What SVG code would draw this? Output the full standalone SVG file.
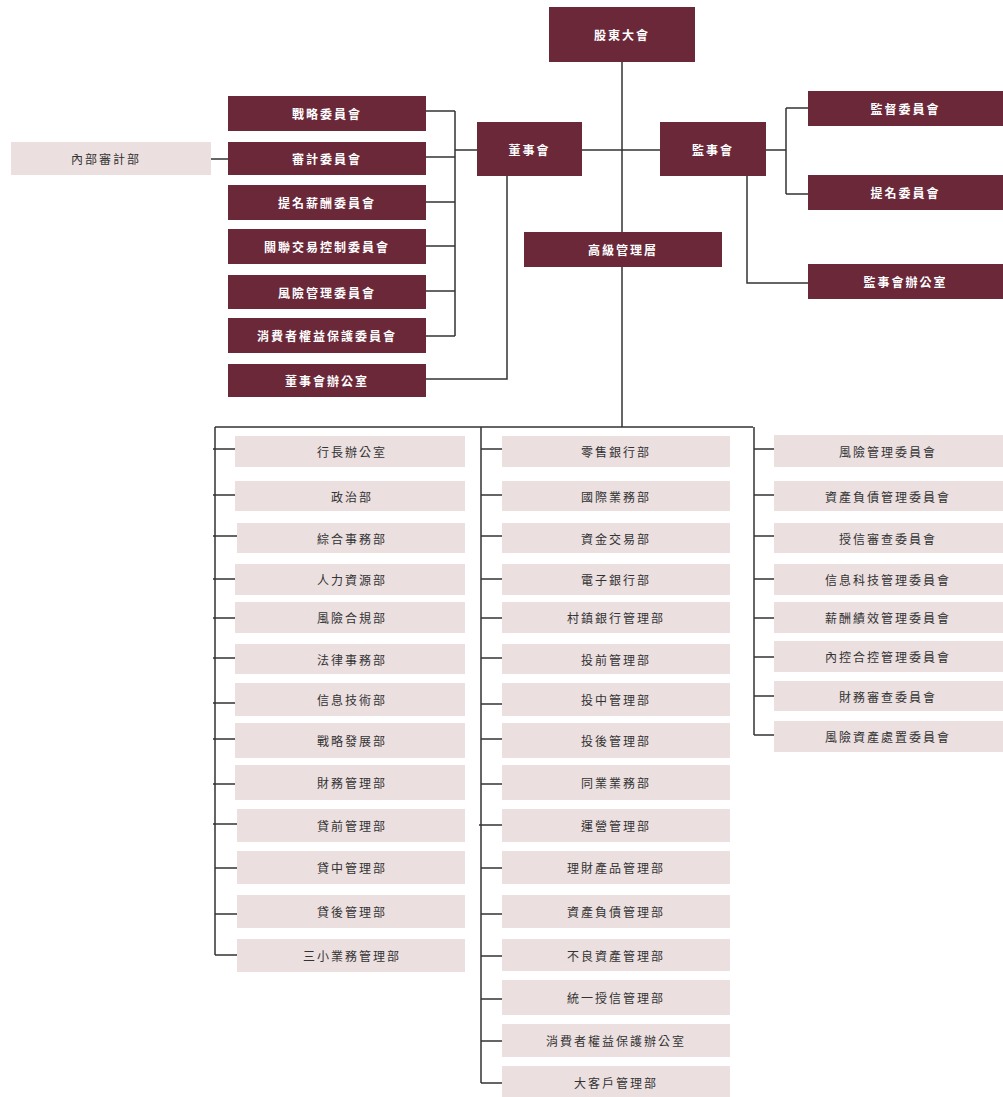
<svg xmlns="http://www.w3.org/2000/svg" width="1003" height="1097" viewBox="0 0 1003 1097">
<style>
.d{fill:#6b2839}
.l{fill:#ebdfe0}
.c{fill:none;stroke:#333;stroke-width:1.5}
text{font-family:"Noto Sans CJK TC","Noto Sans CJK SC",sans-serif;font-size:12px;letter-spacing:2px;text-anchor:middle;dominant-baseline:central}
.dt{fill:#fff;font-weight:bold}
.lt{fill:#333}
</style>
<rect width="1003" height="1097" fill="#fff"/>
<g id="connectors" class="c">
<path d="M622 62V232M582 150H660M622 267V427M215 427H753"/>
<path d="M766 150H786M786 108V194M786 108H808M786 194H808M747 176V283H808"/>
<path d="M507 176V379H426M455 111V336M455 150H477M426 111H455M426 157H455M426 202H455M426 246H455M426 291H455M426 336H455M211 159H228"/>
<path d="M215 427V955M213 449H235M213 495H235M213 536H237M213 579H235M213 618H235M213 658H235M213 703H235M213 739H235M213 784H235M213 824H237M215 868H237M215 914H237M215 955H237"/>
<path d="M481 427V1083M481 449H502M481 495H502M481 536H502M481 579H502M481 618H502M481 658H502M481 704H502M481 739H502M481 784H502M479 825H502M481 868H502M481 914H502M481 956H502M481 999H502M481 1041H502M481 1083H502"/>
<path d="M754 427V735M754 449H774M754 495H774M754 536H774M754 579H774M754 618H774M754 657H774M754 696H774M754 735H774"/>
</g>
<g id="n-gudong"><rect class="d" x="549" y="7" width="146" height="55"/><text class="dt" x="622" y="34.5">股東大會</text></g>
<g id="n-dongshihui"><rect class="d" x="477" y="122" width="105" height="54"/><text class="dt" x="529.5" y="149">董事會</text></g>
<g id="n-jianshihui"><rect class="d" x="660" y="122" width="106" height="54"/><text class="dt" x="713" y="149">監事會</text></g>
<g id="n-gaoji"><rect class="d" x="524" y="232" width="198" height="35"/><text class="dt" x="623" y="249.5">高級管理層</text></g>
<g id="n-jiandu"><rect class="d" x="808" y="91" width="195" height="35"/><text class="dt" x="905.5" y="108.5">監督委員會</text></g>
<g id="n-timing"><rect class="d" x="808" y="175" width="195" height="35"/><text class="dt" x="905.5" y="192.5">提名委員會</text></g>
<g id="n-jsbgs"><rect class="d" x="808" y="264" width="195" height="35"/><text class="dt" x="905.5" y="281.5">監事會辦公室</text></g>
<g id="n-zhanlue"><rect class="d" x="228" y="96" width="198" height="35"/><text class="dt" x="327" y="113.5">戰略委員會</text></g>
<g id="n-shenji"><rect class="d" x="228" y="142" width="198" height="33"/><text class="dt" x="327" y="158.5">審計委員會</text></g>
<g id="n-tmxc"><rect class="d" x="228" y="185" width="198" height="35"/><text class="dt" x="327" y="202.5">提名薪酬委員會</text></g>
<g id="n-guanlian"><rect class="d" x="228" y="229" width="198" height="35"/><text class="dt" x="327" y="246.5">關聯交易控制委員會</text></g>
<g id="n-fxgl"><rect class="d" x="228" y="275" width="198" height="34"/><text class="dt" x="327" y="292">風險管理委員會</text></g>
<g id="n-xfz"><rect class="d" x="228" y="318" width="198" height="35"/><text class="dt" x="327" y="335.5">消費者權益保護委員會</text></g>
<g id="n-dsbgs"><rect class="d" x="228" y="364" width="198" height="33"/><text class="dt" x="327" y="380.5">董事會辦公室</text></g>
<g id="n-nbsj"><rect class="l" x="11" y="142" width="200" height="33"/><text class="lt" x="106" y="158.5">內部審計部</text></g>
<g id="left-col">
<g id="n-hz"><rect class="l" x="235" y="436" width="230" height="31"/><text class="lt" x="352" y="451.5">行長辦公室</text></g>
<g id="n-zz"><rect class="l" x="235" y="481" width="230" height="30"/><text class="lt" x="352" y="496">政治部</text></g>
<g id="n-zh"><rect class="l" x="237" y="523" width="228" height="30"/><text class="lt" x="352" y="538">綜合事務部</text></g>
<g id="n-rl"><rect class="l" x="235" y="564" width="230" height="31"/><text class="lt" x="352" y="579.5">人力資源部</text></g>
<g id="n-fxhg"><rect class="l" x="235" y="602" width="230" height="31"/><text class="lt" x="352" y="617.5">風險合規部</text></g>
<g id="n-fl"><rect class="l" x="235" y="644" width="230" height="30"/><text class="lt" x="352" y="659">法律事務部</text></g>
<g id="n-xx"><rect class="l" x="235" y="683" width="230" height="33"/><text class="lt" x="352" y="699.5">信息技術部</text></g>
<g id="n-zlfz"><rect class="l" x="235" y="723" width="230" height="35"/><text class="lt" x="352" y="740.5">戰略發展部</text></g>
<g id="n-cw"><rect class="l" x="235" y="765" width="230" height="35"/><text class="lt" x="352" y="782.5">財務管理部</text></g>
<g id="n-dq"><rect class="l" x="237" y="809" width="228" height="33"/><text class="lt" x="352" y="825.5">貸前管理部</text></g>
<g id="n-dz"><rect class="l" x="237" y="851" width="228" height="33"/><text class="lt" x="352" y="867.5">貸中管理部</text></g>
<g id="n-dh"><rect class="l" x="237" y="895" width="228" height="33"/><text class="lt" x="352" y="911.5">貸後管理部</text></g>
<g id="n-sx"><rect class="l" x="237" y="939" width="228" height="33"/><text class="lt" x="352" y="955.5">三小業務管理部</text></g>
</g>
<g id="mid-col">
<g id="n-ls"><rect class="l" x="502" y="436" width="228" height="31"/><text class="lt" x="616" y="451.5">零售銀行部</text></g>
<g id="n-gj"><rect class="l" x="502" y="481" width="228" height="30"/><text class="lt" x="616" y="496">國際業務部</text></g>
<g id="n-zj"><rect class="l" x="502" y="523" width="228" height="30"/><text class="lt" x="616" y="538">資金交易部</text></g>
<g id="n-dzyh"><rect class="l" x="502" y="564" width="228" height="31"/><text class="lt" x="616" y="579.5">電子銀行部</text></g>
<g id="n-cz"><rect class="l" x="502" y="602" width="228" height="31"/><text class="lt" x="616" y="617.5">村鎮銀行管理部</text></g>
<g id="n-tq"><rect class="l" x="502" y="644" width="228" height="30"/><text class="lt" x="616" y="659">投前管理部</text></g>
<g id="n-tz"><rect class="l" x="502" y="683" width="228" height="33"/><text class="lt" x="616" y="699.5">投中管理部</text></g>
<g id="n-th"><rect class="l" x="502" y="723" width="228" height="35"/><text class="lt" x="616" y="740.5">投後管理部</text></g>
<g id="n-ty"><rect class="l" x="502" y="765" width="228" height="35"/><text class="lt" x="616" y="782.5">同業業務部</text></g>
<g id="n-yy"><rect class="l" x="502" y="809" width="228" height="33"/><text class="lt" x="616" y="825.5">運營管理部</text></g>
<g id="n-lc"><rect class="l" x="502" y="851" width="228" height="33"/><text class="lt" x="616" y="867.5">理財產品管理部</text></g>
<g id="n-zcfz"><rect class="l" x="502" y="895" width="228" height="33"/><text class="lt" x="616" y="911.5">資產負債管理部</text></g>
<g id="n-bl"><rect class="l" x="502" y="939" width="228" height="32"/><text class="lt" x="616" y="955">不良資產管理部</text></g>
<g id="n-tysx"><rect class="l" x="502" y="980" width="228" height="35"/><text class="lt" x="616" y="997.5">統一授信管理部</text></g>
<g id="n-xfzb"><rect class="l" x="502" y="1024" width="228" height="33"/><text class="lt" x="616" y="1040.5">消費者權益保護辦公室</text></g>
<g id="n-dkh"><rect class="l" x="502" y="1066" width="228" height="31"/><text class="lt" x="616" y="1082">大客戶管理部</text></g>
</g>
<g id="right-col">
<g id="n-r1"><rect class="l" x="774" y="435" width="229" height="32"/><text class="lt" x="888" y="451">風險管理委員會</text></g>
<g id="n-r2"><rect class="l" x="774" y="481" width="229" height="30"/><text class="lt" x="888" y="496">資產負債管理委員會</text></g>
<g id="n-r3"><rect class="l" x="774" y="523" width="229" height="30"/><text class="lt" x="888" y="538">授信審查委員會</text></g>
<g id="n-r4"><rect class="l" x="774" y="564" width="229" height="31"/><text class="lt" x="888" y="579.5">信息科技管理委員會</text></g>
<g id="n-r5"><rect class="l" x="774" y="602" width="229" height="31"/><text class="lt" x="888" y="617.5">薪酬績效管理委員會</text></g>
<g id="n-r6"><rect class="l" x="774" y="641" width="229" height="31"/><text class="lt" x="888" y="656.5">內控合控管理委員會</text></g>
<g id="n-r7"><rect class="l" x="774" y="681" width="229" height="30"/><text class="lt" x="888" y="696">財務審查委員會</text></g>
<g id="n-r8"><rect class="l" x="774" y="721" width="229" height="31"/><text class="lt" x="888" y="736.5">風險資產處置委員會</text></g>
</g>
</svg>
